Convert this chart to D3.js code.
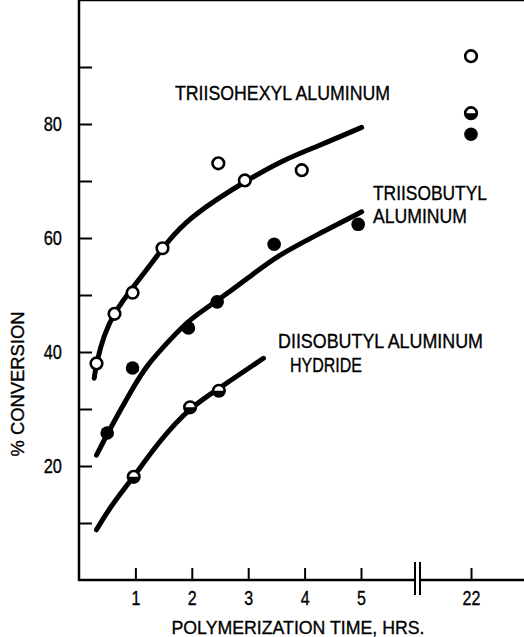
<!DOCTYPE html>
<html>
<head>
<meta charset="utf-8">
<script src="https://cdn.jsdelivr.net/npm/d3@7"></script>
<style>
  body { margin: 0; background: #fff; }
  text { font-family: "Liberation Sans Narrow", "Liberation Sans", Arial, sans-serif; fill: #000; stroke: #000; stroke-width: 0.35px; }
</style>
</head>
<body>
<div id="chart"></div>
<script>
// chart size
var svgWidth = 524;
var svgHeight = 637;

// measured points (hours, % conversion)
var hexylX = [0.31, 0.63, 0.95, 1.48, 2.47, 2.94, 3.95, 22];
var hexylY = [38.0, 46.7, 50.4, 58.2, 73.1, 70.1, 71.9, 91.9];
var butylX = [0.50, 0.95, 1.94, 2.45, 3.46, 4.95, 22];
var butylY = [25.8, 37.2, 44.2, 48.8, 58.9, 62.4, 78.2];
var hydrideX = [0.97, 1.97, 2.48, 22];
var hydrideY = [18.1, 30.3, 33.2, 81.9];

// hand drawn fit curves
var hexylCurveX = [0.27, 0.31, 0.44, 0.63, 0.95, 1.26, 1.48, 1.85, 2.44, 2.96, 3.62, 4.21, 5.10];
var hexylCurveY = [35.4, 38.1, 43.0, 47.0, 51.3, 55.2, 58.2, 62.6, 66.8, 70.0, 73.7, 76.0, 79.4];
var butylCurveX = [0.31, 0.52, 0.93, 1.2, 1.61, 1.94, 2.47, 3.03, 3.48, 4.21, 5.10];
var butylCurveY = [21.9, 26.0, 33.3, 37.7, 42.1, 45.6, 49.1, 53.2, 56.7, 60.5, 64.6];
var hydrideCurveX = [0.31, 0.55, 0.97, 1.44, 1.97, 2.48, 3.27];
var hydrideCurveY = [8.8, 12.8, 18.1, 24.6, 30.3, 33.6, 38.9];

// ticks
var xTicks = [1, 2, 3, 4, 5, 22];
var yTicks = [10, 20, 30, 40, 50, 60, 70, 80, 90];

var svg = d3.select("#chart")
    .append("svg")
    .attr("width", svgWidth)
    .attr("height", svgHeight);

// broken x scale: 0-5 hrs, then jump to 22
var xScale = d3.scaleLinear()
    .domain([0, 5, 22])
    .range([79, 361, 471]);

var yScale = d3.scaleLinear()
    .domain([0, 100])
    .range([580, 10]);

var left = xScale(0), bottom = yScale(0), top = yScale(100);
var breakX = (xScale(5) + xScale(22)) / 2 + 1;

// squeeze a text a bit, the original lettering is condensed
function condense(sel, k) {
    sel.each(function() {
        var w = this.getComputedTextLength();
        d3.select(this).attr("textLength", w * k).attr("lengthAdjust", "spacingAndGlyphs");
    });
}

// x axis, ticks pointing up
var xAxis = svg.append("g")
    .attr("transform", `translate(0, ${bottom})`)
    .call(d3.axisBottom(xScale).tickValues(xTicks).tickSize(-12).tickPadding(11));
xAxis.select(".domain").remove();
xAxis.selectAll("line").attr("stroke", "#000").attr("stroke-width", 2);
xAxis.selectAll("text").attr("font-size", 20).attr("font-family", null).call(condense, 0.8);

// y axis, ticks pointing right
var yAxis = svg.append("g")
    .attr("transform", `translate(${left}, 0)`)
    .call(d3.axisLeft(yScale).tickValues(yTicks).tickSize(-13).tickPadding(17)
        .tickFormat(d => d % 20 === 0 ? d : ""));
yAxis.select(".domain").remove();
yAxis.selectAll("line").attr("stroke", "#000").attr("stroke-width", 2);
yAxis.selectAll("text").attr("font-size", 20.5).attr("dy", "0.3em").attr("font-family", null).call(condense, 0.8);

// frame lines
svg.append("line").attr("x1", left).attr("x2", left).attr("y1", top - 1).attr("y2", bottom + 1)
    .attr("stroke", "#000").attr("stroke-width", 2.5);
svg.append("line").attr("x1", left).attr("x2", svgWidth).attr("y1", top).attr("y2", top)
    .attr("stroke", "#000").attr("stroke-width", 2.5);
svg.append("line").attr("x1", left).attr("x2", breakX - 2).attr("y1", bottom).attr("y2", bottom)
    .attr("stroke", "#000").attr("stroke-width", 2.5);
svg.append("line").attr("x1", breakX + 3).attr("x2", svgWidth).attr("y1", bottom).attr("y2", bottom)
    .attr("stroke", "#000").attr("stroke-width", 2.5);

// axis break marks
[breakX - 2, breakX + 3].forEach(function(bx) {
    svg.append("line").attr("x1", bx).attr("x2", bx).attr("y1", bottom - 18).attr("y2", bottom + 15)
        .attr("stroke", "#000").attr("stroke-width", 2);
});

// fit curves
var line = d3.line()
    .x(d => xScale(d[0]))
    .y(d => yScale(d[1]))
    .curve(d3.curveBasis);

[[hexylCurveX, hexylCurveY], [butylCurveX, butylCurveY], [hydrideCurveX, hydrideCurveY]].forEach(function(c) {
    svg.append("path")
        .datum(d3.zip(c[0], c[1]))
        .attr("d", line)
        .attr("fill", "none")
        .attr("stroke", "#000")
        .attr("stroke-width", 5)
        .attr("stroke-linecap", "round");
});

var r = 5.8;

// open circles
svg.append("g").selectAll("circle")
    .data(d3.zip(hexylX, hexylY))
    .enter().append("circle")
    .attr("cx", d => xScale(d[0]))
    .attr("cy", d => yScale(d[1]))
    .attr("r", r)
    .attr("fill", "#fff")
    .attr("stroke", "#000")
    .attr("stroke-width", 2.6);

// filled circles
svg.append("g").selectAll("circle")
    .data(d3.zip(butylX, butylY))
    .enter().append("circle")
    .attr("cx", d => xScale(d[0]))
    .attr("cy", d => yScale(d[1]))
    .attr("r", 6.8)
    .attr("fill", "#000");

// half filled circles: white top, black bottom
var arcBottom = d3.arc().innerRadius(0).outerRadius(r).startAngle(Math.PI / 2).endAngle(Math.PI * 1.5);
var half = svg.append("g").selectAll("g")
    .data(d3.zip(hydrideX, hydrideY))
    .enter().append("g")
    .attr("transform", d => `translate(${xScale(d[0])}, ${yScale(d[1])})`);
half.append("circle").attr("r", r).attr("fill", "#fff").attr("stroke", "#000").attr("stroke-width", 2.6);
half.append("path").attr("d", arcBottom).attr("fill", "#000");

// curve labels
function label(txt, x, y, w) {
    svg.append("text").attr("x", x).attr("y", y).attr("font-size", 20)
        .attr("textLength", w).attr("lengthAdjust", "spacingAndGlyphs")
        .text(txt);
}
label("TRIISOHEXYL ALUMINUM", 175, 100, 215);
label("TRIISOBUTYL", 373, 200, 114);
label("ALUMINUM", 373, 223, 94);
label("DIISOBUTYL ALUMINUM", 278, 348, 205);
label("HYDRIDE", 290, 372, 72);

// axis titles
svg.append("text")
    .attr("x", 298)
    .attr("y", 634)
    .attr("text-anchor", "middle")
    .attr("font-size", 19)
    .attr("textLength", 253)
    .attr("lengthAdjust", "spacingAndGlyphs")
    .text("POLYMERIZATION TIME, HRS.");

svg.append("text")
    .attr("transform", "translate(24, 384) rotate(-90)")
    .attr("text-anchor", "middle")
    .attr("font-size", 19)
    .attr("textLength", 145)
    .attr("lengthAdjust", "spacingAndGlyphs")
    .text("% CONVERSION");
</script>
</body>
</html>
